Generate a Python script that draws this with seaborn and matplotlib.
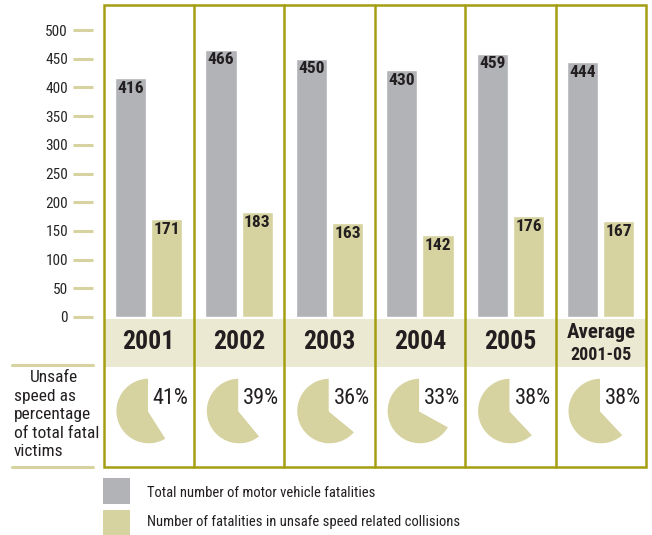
import matplotlib
matplotlib.use("Agg")
import matplotlib.pyplot as plt
import seaborn as sns
import pandas as pd
from matplotlib.patches import Rectangle
from matplotlib.lines import Line2D

# ---- data ----
years = ["2001", "2002", "2003", "2004", "2005", "Average"]
total_fatalities = [416, 466, 450, 430, 459, 444]
speed_fatalities = [171, 183, 163, 142, 176, 167]
speed_pct = [41, 39, 36, 33, 38, 38]
series_names = ["Total number of motor vehicle fatalities",
                "Number of fatalities in unsafe speed related collisions"]
yticks = [0, 50, 100, 150, 200, 250, 300, 350, 400, 450, 500]

GRAY = "#b1b3b6"
BEIGE = "#d6d3a0"
BAND = "#ebe9d1"
OLIVE = "#a49f12"
DARK = "#231f20"
TXT = "#3a3a3a"

sns.set_theme(style="white")
plt.rcParams["font.family"] = ["Roboto Condensed", "DejaVu Sans"]

W, H = 652, 535
fig = plt.figure(figsize=(W / 100, H / 100), dpi=100)

def fx(x):
    return x / W

def fy(y):
    return 1 - y / H

LEFT, RIGHT = 103.5, 646.0
TOP, ZERO, BOTTOM = 5.0, 317.0, 467.0
ncol = len(years)
colw = (RIGHT - LEFT) / ncol

ax = fig.add_axes([fx(LEFT), fy(ZERO), fx(RIGHT) - fx(LEFT), (ZERO - TOP) / H])

df = pd.DataFrame({
    "year": years * 2,
    "value": total_fatalities + speed_fatalities,
    "series": [series_names[0]] * ncol + [series_names[1]] * ncol,
})
sns.barplot(data=df, x="year", y="value", hue="series", order=years,
            hue_order=series_names, palette=[GRAY, BEIGE], saturation=1,
            width=0.8, gap=0.14, legend=False, ax=ax)

ax.set_xlim(-0.5, ncol - 0.5)
ax.set_ylim(0, (ZERO - TOP) / ((ZERO - 30) / 500))
ax.set_xlabel("")
ax.set_ylabel("")
ax.set_xticks([])
ax.set_yticks(yticks)
ax.set_yticklabels([str(t) for t in yticks], fontsize=11.5, color=TXT)
for s in ["top", "right", "bottom"]:
    ax.spines[s].set_visible(False)
ax.spines["left"].set_position(("outward", 7.6))
ax.spines["left"].set_color("none")
ax.tick_params(axis="y", direction="out", length=14.4, width=2.2,
               color=BEIGE, pad=3.6, left=True)
ax.patch.set_alpha(0)

# bar value labels
for cont in ax.containers:
    for bar in cont:
        h = bar.get_height()
        ax.annotate(f"{h:.0f}", (bar.get_x() + bar.get_width() / 2, h),
                    xytext=(0, -2.0), textcoords="offset points",
                    ha="center", va="top", fontsize=12.5, fontweight="bold",
                    color=DARK)

# year band
fig.patches.append(Rectangle((fx(LEFT), fy(367)), fx(RIGHT) - fx(LEFT),
                             (367 - 319) / H, transform=fig.transFigure,
                             facecolor=BAND, edgecolor="none", zorder=0))

# frame lines
lw = 1.8
fig.add_artist(Rectangle((fx(LEFT), fy(BOTTOM)), fx(RIGHT) - fx(LEFT),
                         (BOTTOM - TOP) / H, transform=fig.transFigure,
                         facecolor="none", edgecolor=OLIVE, linewidth=lw, zorder=5))
for k in range(1, ncol):
    x = LEFT + k * colw
    fig.add_artist(Line2D([fx(x), fx(x)], [fy(TOP), fy(BOTTOM)],
                          transform=fig.transFigure, color=OLIVE, linewidth=lw, zorder=5))

# year labels
for i, y in enumerate(years):
    cx = LEFT + (i + 0.5) * colw
    if y == "Average":
        fig.text(fx(cx), fy(333), "Average", ha="center", va="center",
                 fontsize=15, fontweight="bold", color=DARK)
        fig.text(fx(cx), fy(355), "2001-05", ha="center", va="center",
                 fontsize=13, fontweight="bold", color=DARK)
    else:
        fig.text(fx(cx), fy(342), y, ha="center", va="center",
                 fontsize=18.5, fontweight="bold", color=DARK)

# pies
R = 33
for i, p in enumerate(speed_pct):
    cx = LEFT + (i + 0.5) * colw
    pax = fig.add_axes([fx(cx - 36), fy(411 + 36), 72 / W, 72 / H])
    pax.pie([100 - p, p], colors=[BEIGE, "none"], startangle=90,
            counterclock=True, radius=1)
    pax.set_xlim(-36 / R, 36 / R)
    pax.set_ylim(-36 / R, 36 / R)
    pax.set_aspect("equal")
    pax.axis("off")
    fig.text(fx(cx + 4), fy(398), f"{p}%", ha="left", va="center",
             fontsize=16, color=DARK)

# left side label
fig.add_artist(Line2D([fx(12), fx(93)], [fy(365), fy(365)],
                      transform=fig.transFigure, color=BEIGE, linewidth=2.2))
fig.add_artist(Line2D([fx(12), fx(93)], [fy(467), fy(467)],
                      transform=fig.transFigure, color=BEIGE, linewidth=2.2))
side_lines = ["Unsafe", "speed as", "percentage", "of total fatal", "victims"]
for j, t in enumerate(side_lines):
    x = 30 if j == 0 else 14
    fig.text(fx(x), fy(378 + j * 18.5), t, ha="left", va="center",
             fontsize=12.5, color=DARK)

# legend
fig.patches.append(Rectangle((fx(103), fy(504)), 27 / W, 26 / H,
                             transform=fig.transFigure, facecolor=GRAY,
                             edgecolor="none"))
fig.patches.append(Rectangle((fx(103), fy(535)), 27 / W, 25 / H,
                             transform=fig.transFigure, facecolor=BEIGE,
                             edgecolor="none"))
fig.text(fx(147), fy(493), series_names[0], ha="left", va="center",
         fontsize=10.5, color=DARK)
fig.text(fx(147), fy(522), series_names[1], ha="left", va="center",
         fontsize=10.5, color=DARK)

fig.savefig("out.png", dpi=100, facecolor="white")
